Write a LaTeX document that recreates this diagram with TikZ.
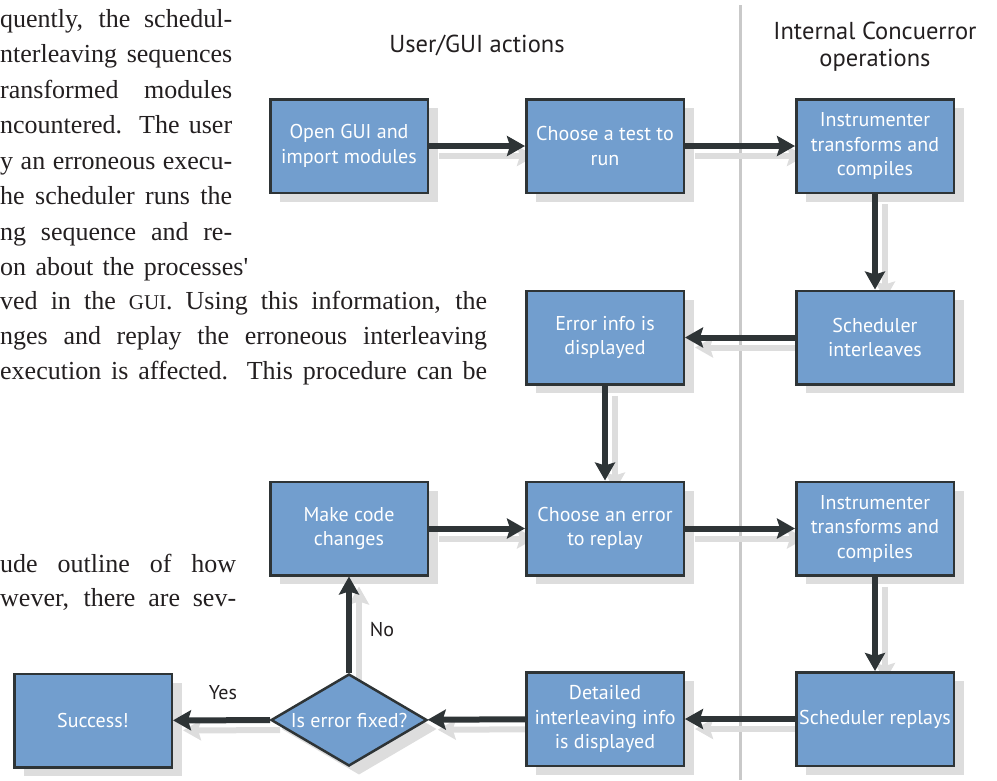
\documentclass[tikz,border=0pt]{standalone}
\usepackage{fontspec}
\setmainfont{Liberation Serif}
\newfontfamily\diafont{PT Sans}
\usetikzlibrary{arrows.meta,shapes.geometric,shadows}
\pgfdeclarelayer{bg}
\pgfsetlayers{bg,main}
\definecolor{boxblue}{HTML}{729ECE}
\definecolor{edgecol}{HTML}{2E3436}
\definecolor{shadecol}{HTML}{DDDDDD}
\definecolor{sepgray}{HTML}{C9C9C9}
\definecolor{inkcol}{HTML}{231F20}
\begin{document}
\begin{tikzpicture}[x=1pt,y=-1pt,
  box/.style={draw=edgecol, line width=2.5pt, fill=boxblue, minimum width=157.5pt, minimum height=93.5pt,
    inner sep=0pt, align=center, text=white, font=\diafont\fontsize{20}{24.5}\selectfont,
    general shadow={fill=shadecol, shadow xshift=10pt, shadow yshift=-9pt}},
  dia/.style={diamond, draw=edgecol, line width=2.5pt, fill=boxblue, minimum width=156pt, minimum height=92pt,
    inner sep=0pt, general shadow={fill=shadecol, shadow xshift=10pt, shadow yshift=-9pt}},
  diatext/.style={text=white, font=\diafont\fontsize{20}{24.5}\selectfont, inner sep=0pt},
  conn/.style={draw=edgecol, line width=6pt, -{Stealth[length=18pt,width=20pt,inset=3pt]}},
  connshade/.style={draw=shadecol, line width=6pt, -{Stealth[length=18pt,width=20pt,inset=3pt]},
    transform canvas={xshift=10pt,yshift=-10pt}},
  lbl/.style={text=inkcol, font=\diafont\fontsize{20}{24.5}\selectfont, inner sep=0pt},
  head/.style={text=inkcol, font=\diafont\fontsize{24.5}{27}\selectfont, inner sep=0pt, align=center},
  bgtext/.style={text=inkcol, font=\fontsize{26}{26}\selectfont, inner sep=0pt, anchor=base west}
]
\useasboundingbox (0,0) rectangle (997,780);
\clip (0,0) rectangle (997,780);

% background page text
\node[bgtext] (t1) at (0,27) {\makebox[232pt][s]{quently, the schedul-}};
\node[bgtext] (t2) at (0,62.5) {\makebox[232pt][s]{nterleaving sequences}};
\node[bgtext] (t3) at (0,98) {\makebox[232pt][s]{ransformed modules}};
\node[bgtext] (t4) at (0,133.5) {\makebox[232pt][s]{ncountered. The user}};
\node[bgtext] (t5) at (0,169) {\makebox[232pt][s]{y an erroneous execu-}};
\node[bgtext] (t6) at (0,204.5) {\makebox[232pt][s]{he scheduler runs the}};
\node[bgtext] (t7) at (0,240) {\makebox[232pt][s]{ng sequence and re-}};
\node[bgtext] (t8) at (0,275) {\makebox[248pt][s]{on about the processes\textquotesingle}};
\node[bgtext] (t9) at (0,309.5) {\makebox[487pt][s]{ved in the {\fontsize{21}{21}\selectfont GUI}. Using this information, the}};
\node[bgtext] (t10) at (0,344.5) {\makebox[487pt][s]{nges and replay the erroneous interleaving}};
\node[bgtext] (t11) at (0,379.5) {\makebox[487pt][s]{execution is affected. This procedure can be}};
\node[bgtext] (t12) at (0,572) {\makebox[236pt][s]{ude outline of how}};
\node[bgtext] (t13) at (0,606) {\makebox[236pt][s]{wever, there are sev-}};

% headers
\node[head] (h1) at (477,45) {User/GUI actions};
\node[head] (h2) at (875,46.5) {Internal Concuerror\\operations};

% boxes
\node[box] (open) at (349,146) {Open GUI and\\import modules};
\node[box] (test) at (605,146) {Choose a test to\\run};
\node[box] (instA) at (875,146) {Instrumenter\\transforms and\\compiles};
\node[box] (err) at (605,337.5) {Error info is\\displayed};
\node[box] (sched) at (875,337.5) {Scheduler\\interleaves};
\node[box] (make) at (349,528.5) {Make code\\changes};
\node[box] (choose) at (605,528.5) {Choose an error\\to replay};
\node[box] (instB) at (875,528.5) {Instrumenter\\transforms and\\compiles};
\node[box] (detail) at (605,719) {Detailed\\interleaving info\\is displayed};
\node[box] (replay) at (875,719) {Scheduler replays};
\node[box] (succ) at (93,720.5) {Success!};
\node[dia] (fixed) at (349,720) {};
\node[diatext] (fixedtxt) at (fixed) {Is error fixed?};

\begin{pgfonlayer}{bg}
  % separator
  \coordinate (sepT) at (740,5);
  \coordinate (sepB) at (740,780);
  \draw[sepgray, line width=3pt] (sepT) -- (sepB);
  % connector shadows
  \foreach \a/\b in {open/test, test/instA, instA/sched, sched/err, err/choose, make/choose,
    choose/instB, instB/replay, replay/detail, detail/fixed, fixed/succ, fixed/make}
    \draw[connshade] (\a) -- (\b);
\end{pgfonlayer}

% connectors
\foreach \a/\b in {open/test, test/instA, instA/sched, sched/err, err/choose, make/choose,
  choose/instB, instB/replay, replay/detail, detail/fixed, fixed/succ, fixed/make}
  \draw[conn] (\a) -- (\b);

\node[lbl] (yes) at (223,693) {Yes};
\node[lbl] (no) at (382,630) {No};
\end{tikzpicture}
\end{document}
